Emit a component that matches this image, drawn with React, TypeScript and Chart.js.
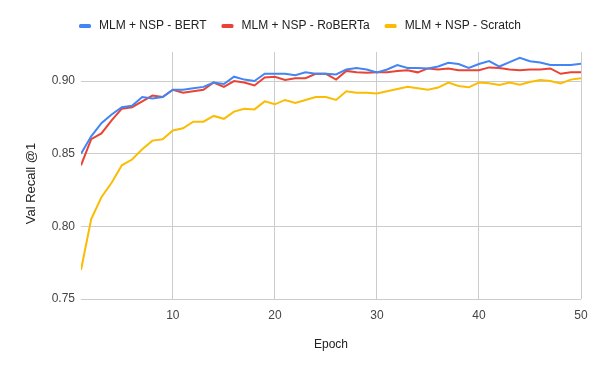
import React, { useEffect, useRef } from "react";
import { Chart, registerables } from "chart.js";

Chart.register(...registerables);

const epochs: number[] = Array.from({ length: 50 }, (_, i) => i + 1);

const seriesNames: string[] = [
  "MLM + NSP - BERT",
  "MLM + NSP - RoBERTa",
  "MLM + NSP - Scratch",
];

const bertValues: number[] = [
  0.850, 0.862, 0.871, 0.877, 0.882, 0.883, 0.889, 0.888, 0.889, 0.894,
  0.894, 0.895, 0.896, 0.899, 0.898, 0.903, 0.901, 0.900, 0.905, 0.905,
  0.905, 0.904, 0.906, 0.905, 0.905, 0.9046, 0.908, 0.909, 0.908, 0.906,
  0.908, 0.911, 0.909, 0.909, 0.9087, 0.910, 0.9126, 0.9117, 0.909, 0.9117,
  0.9137, 0.910, 0.913, 0.916, 0.9137, 0.9128, 0.911, 0.911, 0.911, 0.912,
];

const robertaValues: number[] = [
  0.842, 0.860, 0.864, 0.873, 0.881, 0.882, 0.886, 0.890, 0.889, 0.894,
  0.892, 0.893, 0.894, 0.899, 0.896, 0.900, 0.899, 0.897, 0.9025, 0.903,
  0.9007, 0.902, 0.902, 0.905, 0.905, 0.901, 0.907, 0.906, 0.9057, 0.906,
  0.906, 0.907, 0.9075, 0.906, 0.9087, 0.908, 0.9087, 0.9075, 0.9075, 0.9075,
  0.9094, 0.909, 0.908, 0.9075, 0.908, 0.908, 0.9087, 0.905, 0.906, 0.906,
];

const scratchValues: number[] = [
  0.770, 0.805, 0.820, 0.830, 0.842, 0.846, 0.853, 0.859, 0.860, 0.866,
  0.8675, 0.872, 0.872, 0.876, 0.874, 0.879, 0.881, 0.8805, 0.886, 0.884,
  0.887, 0.885, 0.887, 0.889, 0.889, 0.887, 0.893, 0.892, 0.892, 0.8915,
  0.893, 0.8945, 0.896, 0.895, 0.894, 0.8955, 0.899, 0.8966, 0.8957, 0.899,
  0.8985, 0.8973, 0.899, 0.8975, 0.8993, 0.9007, 0.900, 0.8984, 0.901, 0.902,
];

const seriesColors: string[] = ["#4285F4", "#EA4335", "#FBBC04"];

const xTicks: number[] = [10, 20, 30, 40, 50];
const yTicks: number[] = [0.75, 0.8, 0.85, 0.9];

const xTitle = "Epoch";
const yTitle = "Val Recall @1";

const FONT = "'Liberation Sans', Arial, sans-serif";

const legendPlugin = {
  id: "gLegend",
  afterDraw(chart: any) {
    const ctx = chart.ctx;
    const ds = chart.data.datasets;
    ctx.save();
    ctx.font = `12px ${FONT}`;
    const boxW = 12;
    const boxH = 4;
    const gapText = 8;
    const gapItem = 15;
    const widths = ds.map((d: any) => ctx.measureText(d.label).width);
    let total = 0;
    widths.forEach((w: number, i: number) => {
      total += boxW + gapText + w + (i < widths.length - 1 ? gapItem : 0);
    });
    let x = chart.width / 2 - total / 2;
    const cy = 26;
    ds.forEach((d: any, i: number) => {
      ctx.fillStyle = d.borderColor;
      ctx.beginPath();
      (ctx as any).roundRect
        ? (ctx as any).roundRect(x, cy - boxH / 2, boxW, boxH, 1.5)
        : ctx.rect(x, cy - boxH / 2, boxW, boxH);
      ctx.fill();
      ctx.fillStyle = "#222222";
      ctx.textBaseline = "middle";
      ctx.textAlign = "left";
      ctx.fillText(d.label, x + boxW + gapText, cy);
      x += boxW + gapText + widths[i] + gapItem;
    });

    // vertical axis title
    const area = chart.chartArea;
    ctx.font = `13px ${FONT}`;
    ctx.fillStyle = "#222222";
    ctx.textAlign = "center";
    ctx.textBaseline = "middle";
    ctx.translate(31, (area.top + area.bottom) / 2 + 8);
    ctx.rotate(-Math.PI / 2);
    ctx.fillText(yTitle, 0, 0);
    ctx.restore();
  },
};

export default function App() {
  const canvasRef = useRef<HTMLCanvasElement | null>(null);

  useEffect(() => {
    if (!canvasRef.current) return;
    const values = [bertValues, robertaValues, scratchValues];
    const chart = new Chart(canvasRef.current, {
      type: "line",
      data: {
        labels: epochs,
        datasets: seriesNames.map((name, i) => ({
          label: name,
          data: epochs.map((e, j) => ({ x: e, y: values[i][j] })),
          borderColor: seriesColors[i],
          backgroundColor: seriesColors[i],
          borderWidth: 2,
          pointRadius: 0,
          tension: 0,
          fill: false,
        })),
      },
      options: {
        animation: false,
        responsive: false,
        devicePixelRatio: 1,
        layout: { padding: { top: 52, right: 19, bottom: 0, left: 0 } },
        plugins: {
          legend: { display: false },
          tooltip: { enabled: false },
        },
        scales: {
          x: {
            type: "linear",
            min: 1,
            max: 50,
            afterBuildTicks: (scale: any) => {
              scale.ticks = xTicks.map((v) => ({ value: v }));
            },
            afterFit: (scale: any) => {
              scale.height = 72;
            },
            grid: { color: "#cccccc", drawTicks: false, lineWidth: 1 },
            border: { display: false },
            ticks: {
              padding: 9,
              color: "#444444",
              font: { family: FONT, size: 12 },
              maxRotation: 0,
            },
            title: {
              display: true,
              text: xTitle,
              color: "#222222",
              font: { family: FONT, size: 12 },
              padding: { top: 0, bottom: 19 },
            },
          },
          y: {
            min: 0.75,
            max: 0.92,
            afterBuildTicks: (scale: any) => {
              scale.ticks = yTicks.map((v) => ({ value: v }));
            },
            afterFit: (scale: any) => {
              scale.width = 81;
            },
            grid: { color: "#cccccc", drawTicks: false, lineWidth: 1 },
            border: { display: false },
            ticks: {
              padding: 6,
              color: "#444444",
              font: { family: FONT, size: 12 },
              callback: (v: any) => Number(v).toFixed(2),
            },
            title: { display: false },
          },
        },
      },
      plugins: [legendPlugin],
    });
    return () => chart.destroy();
  }, []);

  return (
    <div style={{ position: "absolute", left: 0, top: 0, width: 600, height: 371, background: "#ffffff" }}>
      <canvas ref={canvasRef} width={600} height={371} style={{ width: 600, height: 371 }} />
    </div>
  );
}
